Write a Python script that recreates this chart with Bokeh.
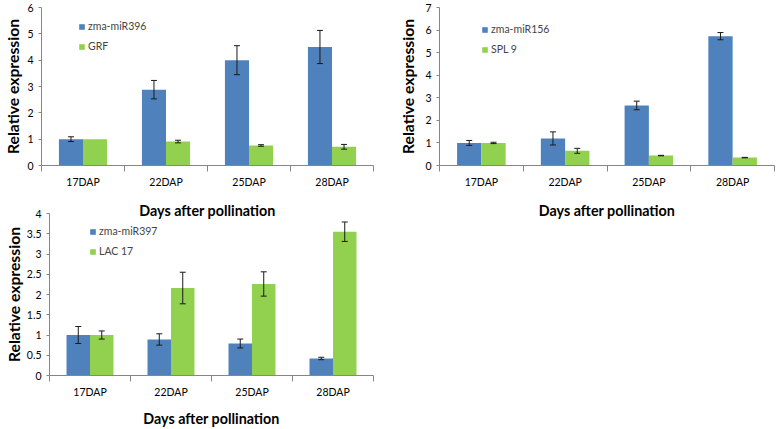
import numpy as np
from bokeh.plotting import figure
from bokeh.layouts import row, column
from bokeh.models import (Range1d, FixedTicker, CustomJSTickFormatter, Whisker, TeeHead,
                          ColumnDataSource, Legend, LegendItem)
from bokeh.embed import file_html
from bokeh.resources import INLINE

days = ["17DAP", "22DAP", "25DAP", "28DAP"]

mir396 = [1.0, 2.88, 4.0, 4.5]
mir396_err = [0.09, 0.35, 0.55, 0.63]
grf = [1.0, 0.91, 0.76, 0.71]
grf_err = [0.0, 0.05, 0.03, 0.09]

mir156 = [1.0, 1.2, 2.66, 5.73]
mir156_err = [0.11, 0.29, 0.19, 0.16]
spl9 = [1.0, 0.65, 0.44, 0.35]
spl9_err = [0.03, 0.11, 0.01, 0.01]

mir397 = [1.0, 0.89, 0.79, 0.42]
mir397_err = [0.21, 0.14, 0.11, 0.03]
lac17 = [1.0, 2.16, 2.26, 3.55]
lac17_err = [0.1, 0.39, 0.3, 0.24]

FONT = "Lato"
AXIS_COL = "#868686"
COLORS = ["#4F81BD", "#92D050"]
XTITLE = "Days after pollination"
YTITLE = "Relative expression"


def make_panel(width, height, ymax, ystep, names, series, errs, borders,
               legend_xy, ytitle_standoff, xtitle_standoff):
    bl, bt, br, bb = borders
    p = figure(width=width, height=height, output_backend="svg", toolbar_location=None,
               x_range=Range1d(0, len(days)), y_range=Range1d(0, ymax),
               min_border_left=bl, min_border_top=bt, min_border_right=br,
               min_border_bottom=bb)
    p.outline_line_color = None
    p.grid.visible = False

    w = 0.29
    idx = np.arange(len(days))
    items = []
    for k, (vals, err, name, col) in enumerate(zip(series, errs, names, COLORS)):
        xs = idx + 0.5 + (k - 0.5) * w
        src = ColumnDataSource(dict(x=xs, top=vals))
        r = p.vbar(x="x", top="top", width=w, source=src, fill_color=col,
                   line_color=None)
        items.append(LegendItem(label=name, renderers=[r]))
        v = np.array(vals)
        e = np.array(err)
        m = e > 0
        esrc = ColumnDataSource(dict(base=xs[m], upper=(v + e)[m], lower=(v - e)[m]))
        wk = Whisker(base="base", upper="upper", lower="lower", source=esrc,
                     dimension="height", line_color="#1a1a1a", line_width=1,
                     upper_head=TeeHead(size=6, line_color="#1a1a1a", line_width=1),
                     lower_head=TeeHead(size=6, line_color="#1a1a1a", line_width=1))
        wk.level = "overlay"
        p.add_layout(wk)

    leg = Legend(items=items, location=legend_xy, glyph_width=7, glyph_height=7,
                 label_text_font=FONT, label_text_font_size="10.5px",
                 label_height=16, spacing=4, padding=0, margin=0, label_standoff=3,
                 border_line_color=None, background_fill_alpha=0)
    p.add_layout(leg)

    # y axis
    ya = p.yaxis[0]
    ya.ticker = FixedTicker(ticks=list(np.arange(0, ymax + 1e-9, ystep)))
    ya.formatter = CustomJSTickFormatter(code="return tick.toString()")
    ya.axis_line_color = AXIS_COL
    ya.major_tick_line_color = AXIS_COL
    ya.major_tick_out = 3
    ya.major_tick_in = 0
    ya.minor_tick_line_color = None
    ya.minor_tick_out = 0
    ya.minor_tick_in = 0
    ya.major_label_standoff = 5
    ya.major_label_text_font = FONT
    ya.major_label_text_font_size = "10.5px"
    ya.major_label_text_color = "black"
    ya.axis_label = YTITLE
    ya.axis_label_text_font = FONT
    ya.axis_label_text_font_size = "15.7px"
    ya.axis_label_text_font_style = "bold"
    ya.axis_label_text_color = "black"
    ya.axis_label_standoff = ytitle_standoff

    # x axis: category labels at centres, ticks at boundaries
    xa = p.xaxis[0]
    xa.ticker = FixedTicker(ticks=list(idx + 0.5), minor_ticks=list(range(len(days) + 1)))
    xa.formatter = CustomJSTickFormatter(args=dict(cats=days),
                                         code="return cats[Math.floor(tick)]")
    xa.axis_line_color = AXIS_COL
    xa.major_tick_line_color = None
    xa.major_tick_out = 0
    xa.major_tick_in = 0
    xa.minor_tick_line_color = AXIS_COL
    xa.minor_tick_out = 6
    xa.minor_tick_in = 0
    xa.major_label_standoff = 4
    xa.major_label_text_font = FONT
    xa.major_label_text_font_size = "10.5px"
    xa.major_label_text_color = "black"
    xa.axis_label = XTITLE
    xa.axis_label_text_font = FONT
    xa.axis_label_text_font_size = "14.3px"
    xa.axis_label_text_font_style = "bold"
    xa.axis_label_text_color = "black"
    xa.axis_label_standoff = xtitle_standoff
    return p


# top-left
p1 = make_panel(390, 221, 6, 1, ["zma-miR396", "GRF"], [mir396, grf], [mir396_err, grf_err],
                borders=(41, 7, 17, 52), legend_xy=(37, 111),
                ytitle_standoff=2, xtitle_standoff=11)
# top-right
p2 = make_panel(387, 221, 7, 1, ["zma-miR156", "SPL 9"], [mir156, spl9], [mir156_err, spl9_err],
                borders=(49, 7, 3, 52), legend_xy=(42, 108),
                ytitle_standoff=5, xtitle_standoff=11)
# bottom-left (overlaps the bottom band of the top-left panel, as in the original figure)
p3 = make_panel(390, 229, 4, 0.5, ["zma-miR397", "LAC 17"], [mir397, lac17], [mir397_err, lac17_err],
                borders=(49, 13, 17, 52), legend_xy=(40, 116),
                ytitle_standoff=1, xtitle_standoff=9)
p3.background_fill_alpha = 0
p3.border_fill_alpha = 0
p3.margin = (-21, 0, 0, 0)

layout = column(row(p1, p2), p3)

open("out.html", "w").write(file_html(layout, INLINE))
